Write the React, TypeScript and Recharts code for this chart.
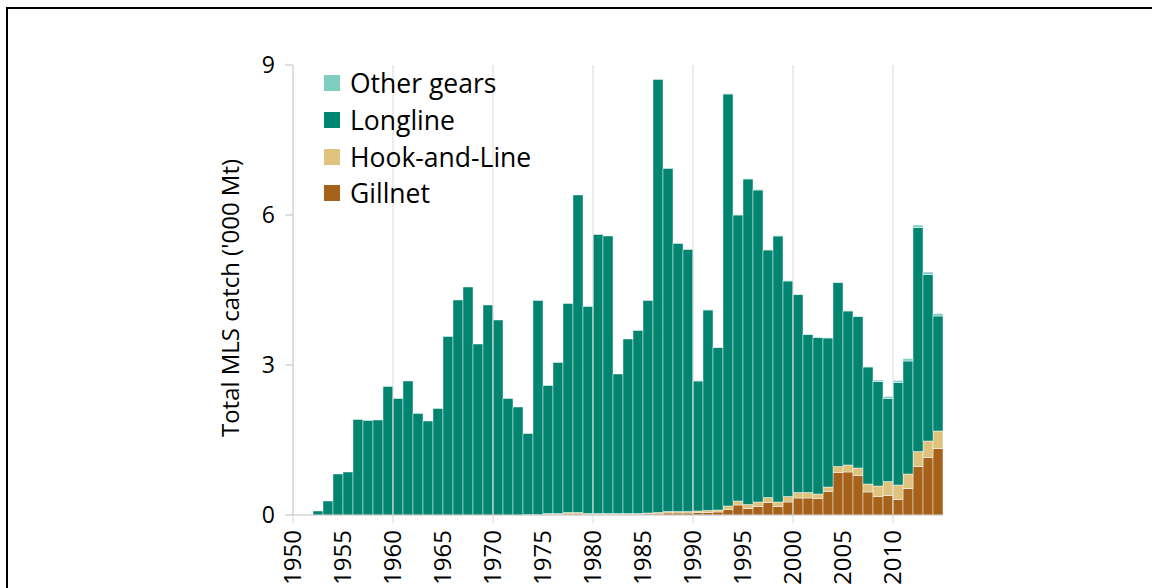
import { BarChart, Bar, XAxis, YAxis, ReferenceLine, Legend } from "recharts";

const years = [
  1950, 1951, 1952, 1953, 1954, 1955, 1956, 1957, 1958, 1959,
  1960, 1961, 1962, 1963, 1964, 1965, 1966, 1967, 1968, 1969,
  1970, 1971, 1972, 1973, 1974, 1975, 1976, 1977, 1978, 1979,
  1980, 1981, 1982, 1983, 1984, 1985, 1986, 1987, 1988, 1989,
  1990, 1991, 1992, 1993, 1994, 1995, 1996, 1997, 1998, 1999,
  2000, 2001, 2002, 2003, 2004, 2005, 2006, 2007, 2008, 2009,
  2010, 2011, 2012, 2013, 2014,
];

// '000 Mt
const gillnet = [
  0, 0, 0, 0, 0, 0, 0, 0, 0, 0,
  0, 0, 0, 0, 0, 0, 0, 0, 0, 0,
  0, 0, 0, 0, 0, 0.01, 0.01, 0.02, 0.02, 0.01,
  0.01, 0.01, 0.01, 0.01, 0.01, 0.02, 0.02, 0.04, 0.04, 0.04,
  0.05, 0.05, 0.06, 0.11, 0.2, 0.13, 0.17, 0.25, 0.17, 0.26,
  0.34, 0.34, 0.33, 0.47, 0.85, 0.86, 0.79, 0.46, 0.37, 0.39,
  0.31, 0.53, 0.97, 1.15, 1.33,
];

const hookAndLine = [
  0, 0, 0, 0, 0, 0, 0, 0, 0, 0,
  0, 0, 0, 0, 0, 0, 0, 0, 0, 0,
  0, 0, 0, 0.01, 0.01, 0.02, 0.02, 0.03, 0.03, 0.02,
  0.02, 0.02, 0.02, 0.02, 0.02, 0.02, 0.03, 0.03, 0.03, 0.03,
  0.03, 0.04, 0.04, 0.07, 0.08, 0.08, 0.09, 0.1, 0.09, 0.11,
  0.11, 0.11, 0.09, 0.09, 0.12, 0.14, 0.15, 0.16, 0.21, 0.28,
  0.29, 0.29, 0.3, 0.33, 0.35,
];

const longline = [
  0, 0, 0.08, 0.28, 0.82, 0.86, 1.91, 1.89, 1.9, 2.57,
  2.33, 2.68, 2.03, 1.88, 2.13, 3.57, 4.3, 4.56, 3.42, 4.2,
  3.9, 2.33, 2.16, 1.62, 4.28, 2.56, 3.02, 4.18, 6.35, 4.14,
  5.58, 5.55, 2.79, 3.49, 3.66, 4.25, 8.66, 6.86, 5.36, 5.24,
  2.6, 4.01, 3.25, 8.24, 5.72, 6.51, 6.24, 4.95, 5.32, 4.31,
  3.96, 3.16, 3.13, 2.98, 3.68, 3.08, 3.03, 2.34, 2.09, 1.66,
  2.05, 2.26, 4.48, 3.33, 2.3,
];

const otherGears = [
  0, 0, 0, 0, 0, 0, 0, 0, 0, 0,
  0, 0, 0, 0, 0, 0, 0, 0, 0, 0,
  0, 0, 0, 0, 0, 0, 0, 0, 0, 0,
  0, 0, 0, 0, 0, 0, 0, 0, 0, 0,
  0.01, 0.01, 0.01, 0.01, 0.01, 0.01, 0.01, 0.01, 0.01, 0.01,
  0.01, 0.01, 0.01, 0.01, 0.01, 0.01, 0.01, 0.01, 0.03, 0.04,
  0.04, 0.05, 0.05, 0.05, 0.05,
];

const yTicks = [0, 3, 6, 9];
const gridYears = [1960, 1970, 1980, 1990, 2000, 2010];

const data = years.map((year, i) => ({
  year,
  gillnet: gillnet[i],
  hook: hookAndLine[i],
  longline: longline[i],
  other: otherGears[i],
}));

const FONT = "'Open Sans', sans-serif";

const legendItems = [
  { name: "Other gears", color: "#80cdc1" },
  { name: "Longline", color: "#018571" },
  { name: "Hook-and-Line", color: "#dfc27d" },
  { name: "Gillnet", color: "#a6611a" },
];

function YearTick(props: any) {
  const { x, y, payload } = props;
  const year = Number(payload.value);
  if (year % 5 !== 0) return <g />;
  const left = x - 5;
  return (
    <g>
      {year % 10 === 0 && (
        <line x1={left} x2={left} y1={y} y2={y + 8} stroke="#d9d9d9" />
      )}
      <g transform={`translate(${left},${y + 15}) rotate(-90)`}>
        <text
          textAnchor="end"
          dy="0.35em"
          fontSize={24}
          fill="#000"
          fontFamily={FONT}
        >
          {year}
        </text>
      </g>
    </g>
  );
}

function LegendBox() {
  return (
    <div style={{ fontFamily: FONT, fontSize: 26.5, color: "#000" }}>
      {legendItems.map((item) => (
        <div
          key={item.name}
          style={{ display: "flex", alignItems: "center", height: 36.7 }}
        >
          <span
            style={{
              width: 16,
              height: 16,
              background: item.color,
              marginRight: 10,
              display: "inline-block",
            }}
          />
          {item.name}
        </div>
      ))}
    </div>
  );
}

export default function App() {
  return (
    <div
      style={{
        position: "fixed",
        left: 0,
        top: 0,
        width: 1152,
        height: 588,
        overflow: "hidden",
        background: "#fff",
        fontFamily: FONT,
      }}
    >
      <div
        style={{
          position: "absolute",
          left: 6,
          top: 7,
          width: 1200,
          height: 700,
          borderLeft: "2px solid #000",
          borderTop: "2px solid #000",
        }}
      />
      <div style={{ position: "absolute", left: 0, top: 0 }}>
        <BarChart
          width={1152}
          height={588}
          data={data}
          margin={{ top: 65, right: 209, bottom: 13, left: 167 }}
          barCategoryGap={0}
          barGap={0}
        >
          {gridYears.map((g) => (
            <ReferenceLine
              key={g}
              x={g}
              position="start"
              stroke="#d9d9d9"
              strokeWidth={1}
            />
          ))}
          <XAxis
            dataKey="year"
            interval={0}
            height={60}
            tickSize={0}
            tickMargin={0}
            tickLine={false}
            axisLine={{ stroke: "#bfbfbf" }}
            tick={<YearTick />}
          />
          <YAxis
            domain={[0, 9]}
            ticks={yTicks}
            width={126}
            tickSize={8}
            tickMargin={10}
            axisLine={{ stroke: "#bfbfbf" }}
            tickLine={{ stroke: "#bfbfbf" }}
            tick={{ fontSize: 23, fill: "#000", fontFamily: FONT }}
            label={{
              value: "Total MLS catch ('000 Mt)",
              angle: -90,
              position: "center",
              dy: 8,
              style: { fontSize: 24, fill: "#000", fontFamily: FONT },
            }}
          />
          <Legend
            layout="vertical"
            align="center"
            verticalAlign="middle"
            content={() => <LegendBox />}
            wrapperStyle={{ left: 324, top: 65, width: 280, height: 150 }}
          />
          <Bar dataKey="gillnet" name="Gillnet" stackId="a" fill="#a6611a" stroke="#ffffff" strokeOpacity={0.45} isAnimationActive={false} />
          <Bar dataKey="hook" name="Hook-and-Line" stackId="a" fill="#dfc27d" stroke="#ffffff" strokeOpacity={0.45} isAnimationActive={false} />
          <Bar dataKey="longline" name="Longline" stackId="a" fill="#018571" stroke="#ffffff" strokeOpacity={0.45} isAnimationActive={false} />
          <Bar dataKey="other" name="Other gears" stackId="a" fill="#80cdc1" stroke="#ffffff" strokeOpacity={0.45} isAnimationActive={false} />
        </BarChart>
      </div>
    </div>
  );
}
